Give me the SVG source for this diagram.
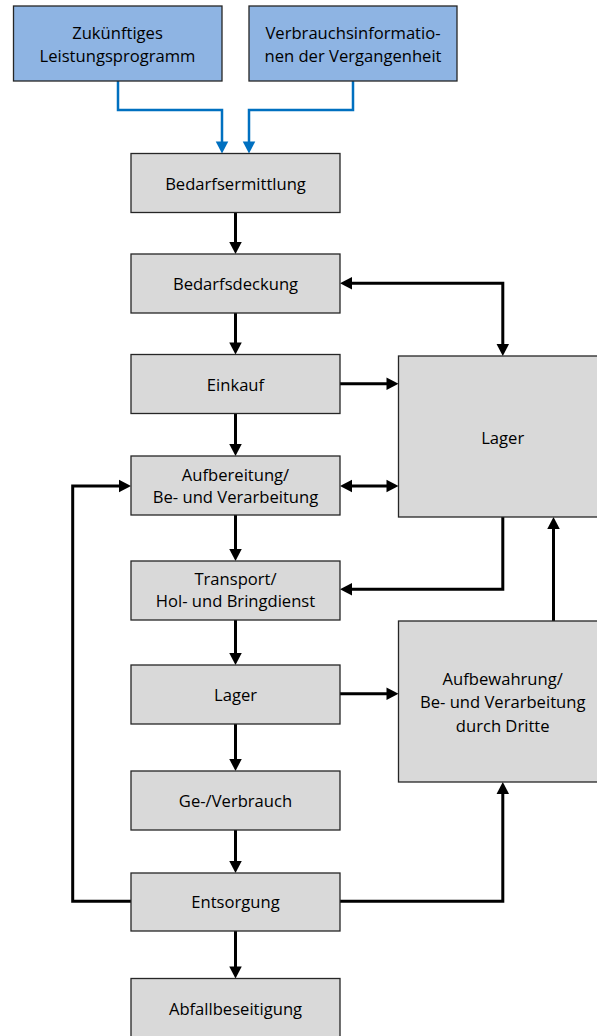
<svg xmlns="http://www.w3.org/2000/svg" width="597" height="1036" viewBox="0 0 597 1036">
<style>
.box{fill:#d9d9d9;stroke:#262626;stroke-width:1.3}
.blue{fill:#8eb4e3;stroke:#262626;stroke-width:1.3}
.t{font-family:"Open Sans","Liberation Sans",sans-serif;font-size:16.6px;fill:#000;text-anchor:middle;dominant-baseline:central}
.c{fill:none;stroke:#000;stroke-width:3}
.cb{fill:none;stroke:#0070c0;stroke-width:2.5}
</style>
<defs>
<marker id="a" markerUnits="userSpaceOnUse" markerWidth="13" markerHeight="13" refX="2" refY="6.25" orient="auto-start-reverse" overflow="visible">
<path d="M0,0 L12,6.25 L0,12.5 z" fill="#000"/>
</marker>
<marker id="ab" markerUnits="userSpaceOnUse" markerWidth="13" markerHeight="13" refX="2" refY="6.25" orient="auto" overflow="visible">
<path d="M0,0 L12,6.25 L0,12.5 z" fill="#0070c0"/>
</marker>
</defs>
<rect x="0" y="0" width="597" height="1036" fill="#fff"/>
<g id="connectors">
<path class="cb" d="M118,81 V110 H222 V143.5" marker-end="url(#ab)"/>
<path class="cb" d="M353,81 V110 H249 V143.5" marker-end="url(#ab)"/>
<path class="c" d="M235.5,212.5 V244" marker-end="url(#a)"/>
<path class="c" d="M235.5,313 V344.5" marker-end="url(#a)"/>
<path class="c" d="M235.5,413.5 V446" marker-end="url(#a)"/>
<path class="c" d="M235.5,515 V551" marker-end="url(#a)"/>
<path class="c" d="M235.5,620 V655" marker-end="url(#a)"/>
<path class="c" d="M235.5,724 V761" marker-end="url(#a)"/>
<path class="c" d="M235.5,830 V863" marker-end="url(#a)"/>
<path class="c" d="M235.5,931 V968.5" marker-end="url(#a)"/>
<path class="c" d="M350,283.3 H502.8 V346" marker-start="url(#a)" marker-end="url(#a)"/>
<path class="c" d="M340,383.7 H388.5" marker-end="url(#a)"/>
<path class="c" d="M350,486 H388.5" marker-start="url(#a)" marker-end="url(#a)"/>
<path class="c" d="M502.8,517 V589.3 H350" marker-end="url(#a)"/>
<path class="c" d="M553.5,621 V527" marker-end="url(#a)"/>
<path class="c" d="M340,693.7 H388.5" marker-end="url(#a)"/>
<path class="c" d="M340,901.3 H502.8 V792" marker-end="url(#a)"/>
<path class="c" d="M131,901.3 H72.7 V486 H121" marker-end="url(#a)"/>
</g>
<g id="n-zukunft"><rect class="blue" x="13.5" y="6" width="208.5" height="75"/><text class="t" x="117.5" y="32.7">Zukünftiges</text><text class="t" x="117.5" y="55">Leistungsprogramm</text></g>
<g id="n-verbrauch"><rect class="blue" x="249" y="6" width="208" height="75"/><text class="t" x="353" y="32.7">Verbrauchsinformatio-</text><text class="t" x="353" y="55">nen der Vergangenheit</text></g>
<g id="n-bedarfsermittlung"><rect class="box" x="131" y="153.5" width="209" height="59"/><text class="t" x="235.5" y="183">Bedarfsermittlung</text></g>
<g id="n-bedarfsdeckung"><rect class="box" x="131" y="254" width="209" height="59"/><text class="t" x="235.5" y="283.5">Bedarfsdeckung</text></g>
<g id="n-einkauf"><rect class="box" x="131" y="354.5" width="209" height="59"/><text class="t" x="235.5" y="384">Einkauf</text></g>
<g id="n-aufbereitung"><rect class="box" x="131" y="456" width="209" height="59"/><text class="t" x="235.5" y="474.3">Aufbereitung/</text><text class="t" x="235.5" y="496.7">Be- und Verarbeitung</text></g>
<g id="n-transport"><rect class="box" x="131" y="561" width="209" height="59"/><text class="t" x="235.5" y="578">Transport/</text><text class="t" x="235.5" y="600.7">Hol- und Bringdienst</text></g>
<g id="n-lager2"><rect class="box" x="131" y="665" width="209" height="59"/><text class="t" x="235.5" y="694">Lager</text></g>
<g id="n-verbrauch2"><rect class="box" x="131" y="771" width="209" height="59"/><text class="t" x="235.5" y="800">Ge-/Verbrauch</text></g>
<g id="n-entsorgung"><rect class="box" x="131" y="873" width="209" height="58"/><text class="t" x="235.5" y="901.5">Entsorgung</text></g>
<g id="n-abfall"><rect class="box" x="131" y="978.5" width="209" height="60"/><text class="t" x="235.5" y="1008.3">Abfallbeseitigung</text></g>
<g id="n-lager1"><rect class="box" x="398.5" y="356" width="209" height="161"/><text class="t" x="502.7" y="437">Lager</text></g>
<g id="n-aufbewahrung"><rect class="box" x="398.5" y="621" width="209" height="161"/><text class="t" x="502.7" y="678.3">Aufbewahrung/</text><text class="t" x="502.7" y="701.5">Be- und Verarbeitung</text><text class="t" x="502.7" y="725.3">durch Dritte</text></g>
</svg>
